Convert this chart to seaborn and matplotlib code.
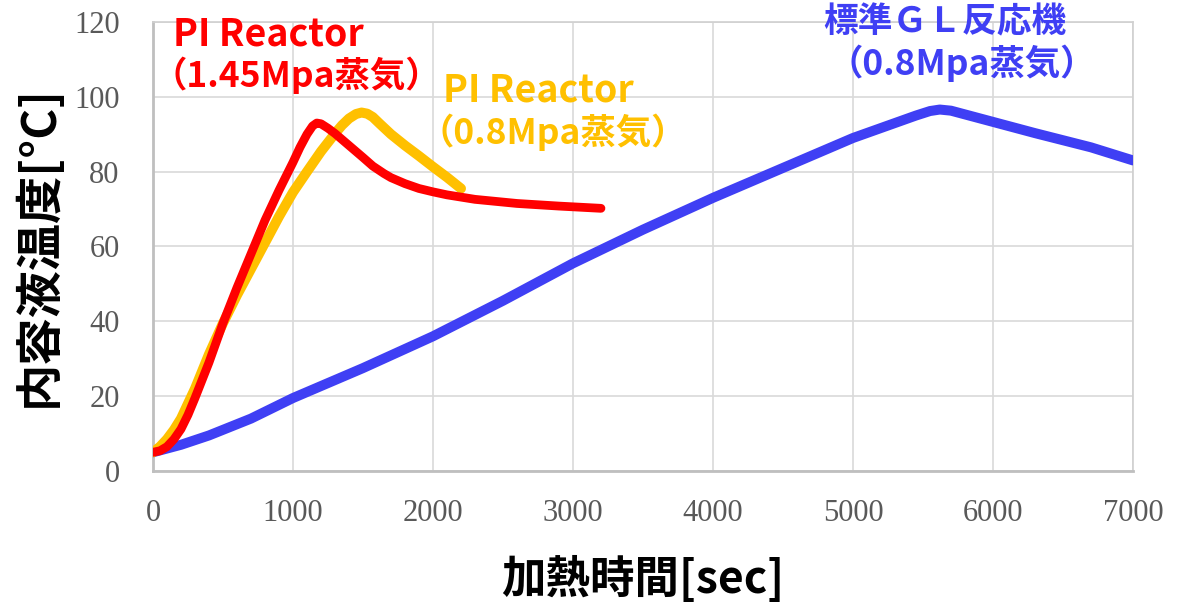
import matplotlib
matplotlib.use("Agg")
import matplotlib.pyplot as plt
import seaborn as sns
import pandas as pd

# ---- data ----
red_t = [0, 50, 100, 150, 200, 250, 300, 400, 500, 600, 700, 800, 900, 1000,
         1050, 1100, 1140, 1170, 1200, 1250, 1300, 1350, 1400, 1450, 1500,
         1570, 1650, 1700, 1800, 1900, 2000, 2100, 2300, 2600, 2900, 3200]
red_y = [5, 5.4, 6.5, 8.5, 11.2, 15, 19.5, 29, 39.5, 49, 58, 67, 75, 82.5,
         86.5, 90, 92.2, 93, 92.8, 91.6, 90.2, 88.6, 87, 85.4, 83.8,
         81.5, 79.5, 78.4, 76.8, 75.5, 74.6, 73.8, 72.6, 71.5, 70.8, 70.2]

yel_t = [0, 50, 100, 150, 200, 300, 400, 500, 600, 700, 800, 900, 1000, 1100,
         1200, 1300, 1350, 1400, 1450, 1490, 1530, 1570, 1620, 1700, 1800,
         1900, 2000, 2100, 2200]
yel_y = [5, 6.5, 8.5, 11, 14, 22, 31.2, 39.5, 47, 54, 61, 68, 74.5, 80,
         85.4, 90.2, 92.4, 94.2, 95.4, 95.8, 95.5, 94.6, 92.8, 90, 87,
         84.2, 81.3, 78.5, 75.5]

blu_t = [0, 200, 400, 700, 1000, 1500, 2000, 2500, 3000, 3500, 4000, 4500, 5000,
         5300, 5450, 5550, 5620, 5700, 5800, 6000, 6300, 6700, 7000]
blu_y = [5, 7, 9.5, 14, 19.5, 27.5, 36, 45.5, 55.5, 64.5, 73, 81, 89,
         93, 95, 96.2, 96.6, 96.3, 95.3, 93.3, 90.3, 86.5, 83]

x_ticks = [0, 1000, 2000, 3000, 4000, 5000, 6000, 7000]
y_ticks = [0, 20, 40, 60, 80, 100, 120]

x_label = "加熱時間[sec]"
y_label = "内容液温度[°C]"
red_name = ["PI Reactor", "（1.45Mpa蒸気）"]
yel_name = ["PI Reactor", "（0.8Mpa蒸気）"]
blu_name = ["標準ＧＬ反応機", "（0.8Mpa蒸気）"]

RED = "#FF0000"
YEL = "#FFC000"
BLU = "#3F3FF4"

sns.set_theme(style="white")
plt.rcParams["font.family"] = ["Noto Sans CJK JP", "DejaVu Sans"]

fig = plt.figure(figsize=(11.85, 6.06), dpi=100)
ax = fig.add_axes([0.1291, 0.2228, 0.9561 - 0.1291, 0.9637 - 0.2228])

df_b = pd.DataFrame({"t": blu_t, "y": blu_y})
df_y = pd.DataFrame({"t": yel_t, "y": yel_y})
df_r = pd.DataFrame({"t": red_t, "y": red_y})

sns.lineplot(data=df_b, x="t", y="y", ax=ax, color=BLU, lw=7.2,
             solid_capstyle="round", solid_joinstyle="round", zorder=3)
sns.lineplot(data=df_y, x="t", y="y", ax=ax, color=YEL, lw=7.2,
             solid_capstyle="round", solid_joinstyle="round", zorder=4)
sns.lineplot(data=df_r, x="t", y="y", ax=ax, color=RED, lw=6.3,
             solid_capstyle="round", solid_joinstyle="round", zorder=5)

ax.set_xlim(0, 7000)
ax.set_ylim(0, 120)
ax.set_xticks(x_ticks)
ax.set_yticks(y_ticks)
ax.set_xticklabels([str(v) for v in x_ticks], family="Liberation Serif",
                   fontsize=22, color="#595959")
ax.set_yticklabels([str(v) for v in y_ticks], family="Liberation Serif",
                   fontsize=22, color="#595959")
ax.tick_params(axis="x", length=0, pad=20)
ax.tick_params(axis="y", length=0, pad=24)

ax.grid(True, color="#D9D9D9", lw=1.2, zorder=0)
for side in ["left", "bottom", "top", "right"]:
    ax.spines[side].set_color("#D0D0D0")
    ax.spines[side].set_linewidth(1.2)
ax.spines["left"].set_color("#BFBFBF")
ax.spines["bottom"].set_color("#BFBFBF")
ax.spines["left"].set_linewidth(2)
ax.spines["bottom"].set_linewidth(2)

ax.set_xlabel(x_label, fontsize=32, fontweight="bold", color="black", labelpad=20)
ax.set_ylabel(y_label, fontsize=34, fontweight="bold", color="black", labelpad=8)

tkw = dict(fontweight="bold", ha="center", va="center", zorder=6, clip_on=False)
ax.text(823, 116.8, red_name[0], color=RED, fontsize=27, **tkw)
ax.text(1025, 105.7, red_name[1], color=RED, fontsize=25.5, **tkw)
ax.text(2750, 101.9, yel_name[0], color=YEL, fontsize=27, **tkw)
ax.text(2854, 90.6, yel_name[1], color=YEL, fontsize=25.5, **tkw)
ax.text(5657, 120.1, blu_name[0], color=BLU, fontsize=25, **tkw)
ax.text(5779, 109.1, blu_name[1], color=BLU, fontsize=25.5, **tkw)

fig.savefig("out.png", dpi=100, facecolor="white")
